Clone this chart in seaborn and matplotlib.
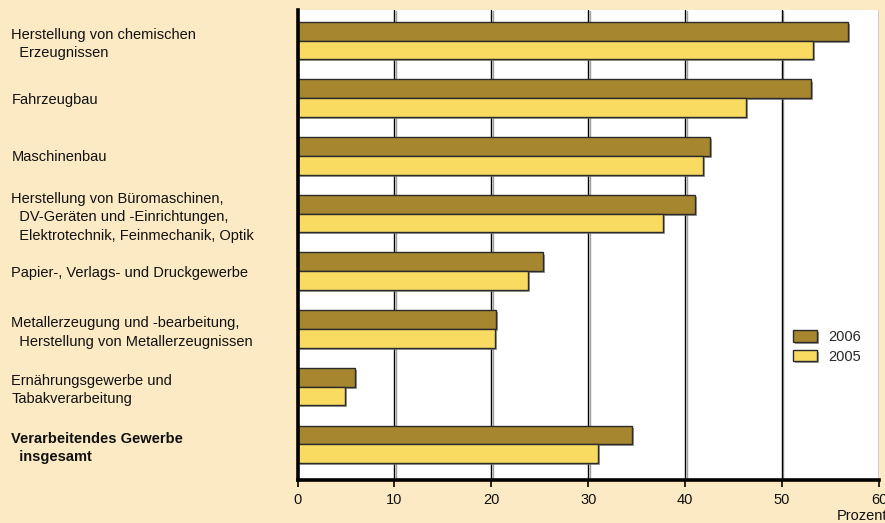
import matplotlib
matplotlib.use("Agg")
import matplotlib.pyplot as plt
import matplotlib.patheffects as pe
import pandas as pd
import seaborn as sns

# Sectors (label lines indented as in the printed table)
categories = [
    "Herstellung von chemischen\n  Erzeugnissen",
    "Fahrzeugbau",
    "Maschinenbau",
    "Herstellung von Büromaschinen,\n  DV-Geräten und -Einrichtungen,\n  Elektrotechnik, Feinmechanik, Optik",
    "Papier-, Verlags- und Druckgewerbe",
    "Metallerzeugung und -bearbeitung,\n  Herstellung von Metallerzeugnissen",
    "Ernährungsgewerbe und\nTabakverarbeitung",
    "Verarbeitendes Gewerbe\n  insgesamt",
]
values_2006 = [56.8, 53.0, 42.6, 41.0, 25.3, 20.5, 5.9, 34.5]
values_2005 = [53.2, 46.3, 41.8, 37.7, 23.8, 20.4, 4.9, 31.0]
years = ["2006", "2005"]
x_ticks = [0, 10, 20, 30, 40, 50, 60]
x_label = "Prozent"

BG = "#FCEAC5"
DARK = "#A78630"
LIGHT = "#FADB61"
EDGE = "#2B2B2B"
FS = 10.5

df = pd.DataFrame({
    "Bereich": categories * 2,
    "Jahr": [years[0]] * len(categories) + [years[1]] * len(categories),
    "Wert": values_2006 + values_2005,
})

sns.set_theme(style="white")
plt.rcParams["font.family"] = ["Liberation Sans", "DejaVu Sans"]

fig = plt.figure(figsize=(8.85, 5.23), dpi=100, facecolor=BG)
ax = fig.add_axes([297.5 / 885, 1 - 480 / 523, (879 - 297.5) / 885, (480 - 10) / 523])
ax.set_facecolor("white")

sns.barplot(
    data=df, y="Bereich", x="Wert", hue="Jahr", hue_order=years,
    order=categories, palette=[DARK, LIGHT], orient="h", width=0.65,
    saturation=1, edgecolor=EDGE, linewidth=1.0, ax=ax, legend=True,
)

shadow = [pe.SimplePatchShadow(offset=(1.5, -1.5), shadow_rgbFace="#777777", alpha=0.7), pe.Normal()]
for patch in ax.patches:
    patch.set_path_effects(shadow)

ax.set_xlim(0, 60)
ax.set_ylim(7.62, -0.53)
ax.set_xticks(x_ticks)
ax.set_xticklabels([str(t) for t in x_ticks], fontsize=FS, color="#111111")
ax.tick_params(axis="x", direction="out", length=5, width=1.2, color="black", pad=4, bottom=True)

# Vertical gridlines behind the bars
ax.set_axisbelow(True)
line_shadow = [pe.SimpleLineShadow(offset=(1, -0.5), shadow_color="#888888", alpha=0.8), pe.Normal()]
for t in x_ticks[1:]:
    ax.axvline(t, color="black", lw=1.0, zorder=0.5, path_effects=line_shadow)

# Category labels, left-aligned at the figure's left margin
ax.set_ylabel("")
ax.set_xlabel("")
ax.tick_params(axis="y", length=0, pad=206)
for i, lab in enumerate(ax.get_yticklabels()):
    lab.set_horizontalalignment("left")
    lab.set_fontsize(FS)
    lab.set_linespacing(1.4)
    lab.set_color("#111111")
    if i == len(categories) - 1:
        lab.set_fontweight("bold")

for side in ["top", "right"]:
    ax.spines[side].set_visible(False)
ax.spines["left"].set_linewidth(2.6)
ax.spines["left"].set_color("black")
ax.spines["bottom"].set_linewidth(2.6)
ax.spines["bottom"].set_color("black")

handles, labels = ax.get_legend_handles_labels()
ax.legend(
    handles, labels, loc="upper left", bbox_to_anchor=(793 / 885, 1 - 330 / 523),
    bbox_transform=fig.transFigure, frameon=False, fontsize=FS,
    handlelength=1.65, handleheight=0.8, labelspacing=0.4, handletextpad=0.8,
    borderaxespad=0, borderpad=0,
)

fig.text(887 / 885, 1 - 516 / 523, x_label, ha="right", va="center", fontsize=FS, color="#111111")

fig.savefig("out.png", dpi=100, facecolor=BG)
